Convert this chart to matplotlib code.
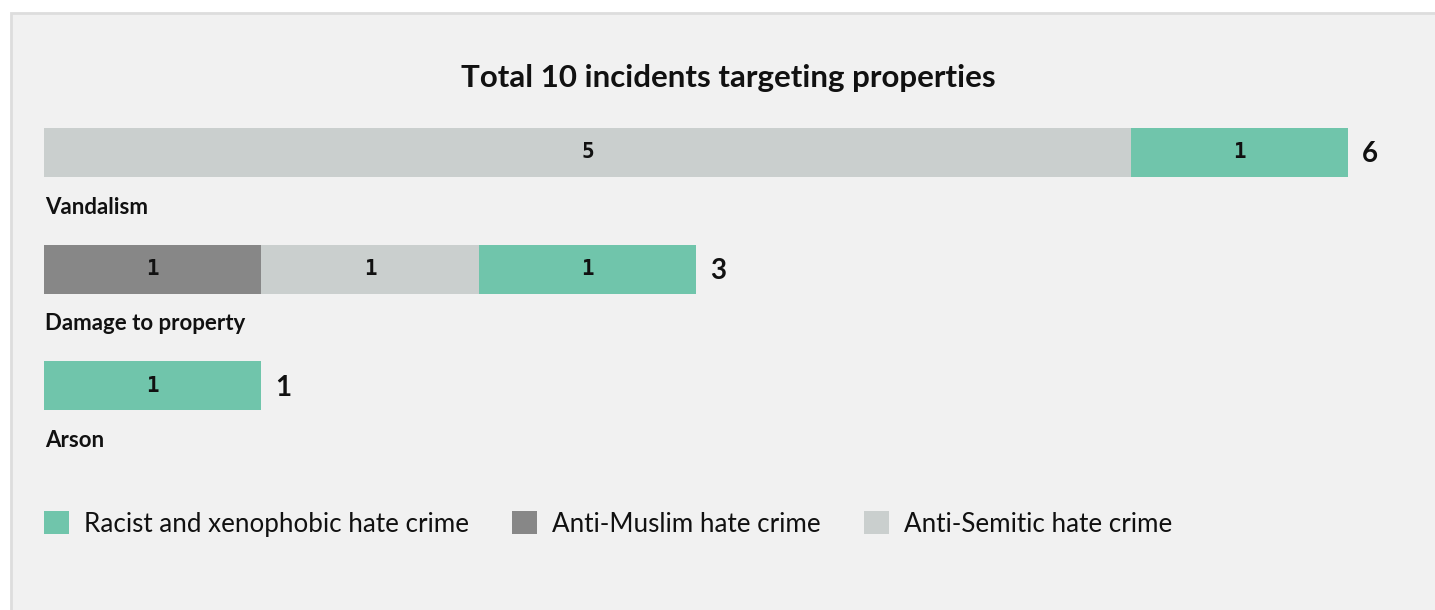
import matplotlib.pyplot as plt
from matplotlib.patches import Rectangle, Patch

# data
categories = ["Vandalism", "Damage to property", "Arson"]
series = ["Anti-Muslim hate crime", "Anti-Semitic hate crime", "Racist and xenophobic hate crime"]
anti_muslim = [0, 1, 0]
anti_semitic = [5, 1, 0]
racist = [1, 1, 1]
colors = {"Racist and xenophobic hate crime": "#70c5ab",
          "Anti-Muslim hate crime": "#878787",
          "Anti-Semitic hate crime": "#cacfce"}
legend_order = ["Racist and xenophobic hate crime", "Anti-Muslim hate crime", "Anti-Semitic hate crime"]
title = "Total 10 incidents targeting properties"

W, H = 1435, 610
fig = plt.figure(figsize=(W / 100, H / 100), dpi=100)
fig.patch.set_facecolor("white")

# panel with a light border on top and left
fig.patches.append(Rectangle((10.5 / W, -0.01), 1.02, (H - 12.5) / H + 0.01,
                             transform=fig.transFigure, facecolor="#f1f1f1",
                             edgecolor="#dddddd", linewidth=2, zorder=-5))

# axes in data units: one unit of x = 217.33 px, rows 116.5 px apart
unit = (1348 - 44) / 6
row = 116.5
ax = fig.add_axes([0, 0, 1, 1])
ax.set_zorder(2)
ax.set_xlim(-44 / unit, (W - 44) / unit)
ax.set_ylim((H - 152.5) / row, -152.5 / row)
ax.axis("off")
ax.patch.set_alpha(0)

bar_h = 49 / row
font = "Lato"

stacks = [anti_muslim, anti_semitic, racist]
left = [0] * len(categories)
for name, vals in zip(series, stacks):
    for i, v in enumerate(vals):
        if v == 0:
            continue
        ax.barh(i, v, left=left[i], height=bar_h, color=colors[name], linewidth=0)
        ax.text(left[i] + v / 2, i, str(v), ha="center", va="center",
                fontsize=15, fontweight="bold", family="DejaVu Sans Mono", color="#111111")
        left[i] += v

for i, cat in enumerate(categories):
    ax.text(left[i] + 14 / unit, i + 2 / row, str(left[i]), ha="left", va="center",
            fontsize=20, fontweight="bold", family=font, color="#111111")
    ax.text(1 / unit, i + 55 / row, cat, ha="left", va="center",
            fontsize=16, fontweight="bold", family=font, color="#111111")

ax.text((728 - 44) / unit, -75 / row, title, ha="center", va="center",
        fontsize=22.5, fontweight="bold", family=font, color="#111111")

handles = [Patch(facecolor=colors[n], edgecolor="none", label=n) for n in legend_order]
leg = fig.legend(handles=handles, loc="center left", bbox_to_anchor=(44 / W, 1 - 524 / H),
                 ncol=3, frameon=False, borderpad=0, borderaxespad=0,
                 handlelength=0.95, handleheight=0.95,
                 handletextpad=0.6, columnspacing=1.65,
                 prop={"family": font, "size": 18.7})
for t in leg.get_texts():
    t.set_color("#111111")

fig.savefig("out.png", dpi=100, facecolor=fig.get_facecolor())
